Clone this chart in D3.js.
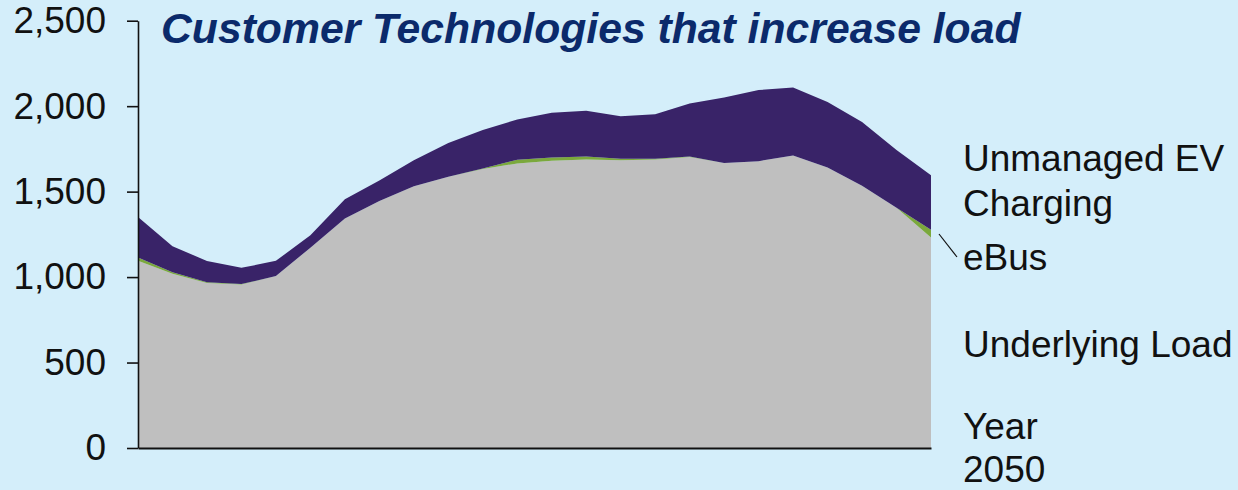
<!DOCTYPE html>
<html>
<head>
<meta charset="utf-8">
<script src="https://cdn.jsdelivr.net/npm/d3@7"></script>
<style>
html,body{margin:0;padding:0;background:#D4EEFA;}
svg{display:block;}
text{font-family:"Liberation Sans",Arial,sans-serif;}
</style>
</head>
<body>
<svg id="chart" width="1238" height="490"></svg>
<script>
// Hours of the day (categories)
const hours = [1,2,3,4,5,6,7,8,9,10,11,12,13,14,15,16,17,18,19,20,21,22,23,24];
// Series values (MW)
const underlyingLoad = [1095,1020,965,957,1006,1172,1343,1445,1532,1587,1632,1665,1680,1688,1684,1688,1703,1668,1678,1712,1641,1535,1405,1232];
const eBus = [20,8,5,2,0,0,0,0,0,0,4,22,20,18,8,4,3,0,0,0,0,0,0,45];
const unmanagedEV = [236,153,124,95,89,73,113,120,152,198,224,235,261,267,249,261,310,383,416,397,384,373,338,319];
const yTicks = [0,500,1000,1500,2000,2500];
const seriesNames = ["Underlying Load","eBus","Unmanaged EV Charging"];
const title = "Customer Technologies that increase load";
const yearLabel = ["Year","2050"];

const colors = {"Underlying Load":"#BFBFBF","eBus":"#7BA83C","Unmanaged EV Charging":"#392368"};

const rows = hours.map((h,i)=>({hour:h,"Underlying Load":underlyingLoad[i],"eBus":eBus[i],"Unmanaged EV Charging":unmanagedEV[i]}));

const svg = d3.select("#chart");
const x = d3.scaleLinear().domain([hours[0], hours[hours.length-1]]).range([138, 931]);
const y = d3.scaleLinear().domain([0,2500]).range([448, 20.7]);

const stack = d3.stack().keys(seriesNames);
const layers = stack(rows);
const area = d3.area()
  .x(d=>x(d.data.hour))
  .y0(d=>y(d[0]))
  .y1(d=>y(d[1]));

svg.append("g").selectAll("path").data(layers).join("path")
  .attr("d", area)
  .attr("fill", d=>colors[d.key]);

// Y axis
const yAxis = d3.axisLeft(y).tickValues(yTicks).tickFormat(d3.format(",")).tickSize(11).tickSizeOuter(0).tickPadding(21);
const gy = svg.append("g").attr("transform","translate(138,0)").call(yAxis);
gy.selectAll("text").attr("font-size","37px").attr("fill","#111").attr("font-family","'Liberation Sans',Arial,sans-serif");
gy.selectAll("line").attr("stroke","#111").attr("stroke-width",1.6);
gy.select(".domain").attr("stroke","#111").attr("stroke-width",1.6);

// X axis baseline
const xAxis = d3.axisBottom(x).tickValues([]).tickSizeOuter(0);
const gx = svg.append("g").attr("transform",`translate(0,${y(0)})`).call(xAxis);
gx.select(".domain").attr("stroke","#111").attr("stroke-width",1.8);

// Title
svg.append("text").attr("x",161).attr("y",43)
  .attr("font-size","42.7px").attr("font-weight","bold").attr("font-style","italic")
  .attr("fill","#0B2A6B").text(title);

// Right labels
const lab = svg.append("g").attr("font-size","37px").attr("fill","#111");
lab.append("text").attr("x",963).attr("y",171).text("Unmanaged EV");
lab.append("text").attr("x",963).attr("y",216).text("Charging");
lab.append("text").attr("x",963).attr("y",270).text("eBus");
lab.append("text").attr("x",963).attr("y",357).text("Underlying Load");
lab.append("text").attr("x",963).attr("y",439).text(yearLabel[0]);
lab.append("text").attr("x",963).attr("y",482).text(yearLabel[1]);

// eBus leader line
svg.append("line").attr("x1",x(24)+8).attr("y1",234).attr("x2",x(24)+26).attr("y2",257)
  .attr("stroke","#111").attr("stroke-width",1.2);
</script>
</body>
</html>
